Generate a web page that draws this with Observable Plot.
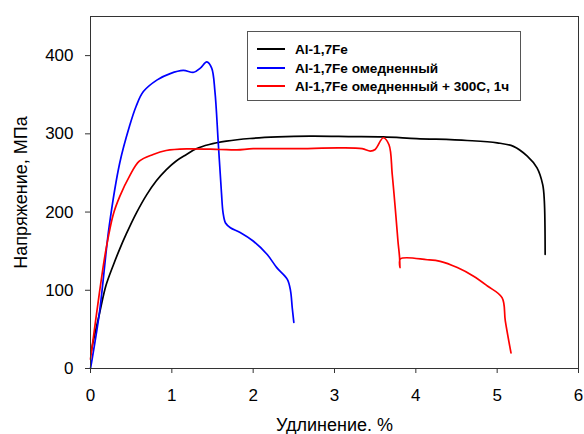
<!DOCTYPE html>
<html>
<head>
<meta charset="utf-8">
<script src="https://cdn.jsdelivr.net/npm/d3@7"></script>
<script src="https://cdn.jsdelivr.net/npm/@observablehq/plot@0.6"></script>
<style>
  html, body { margin: 0; padding: 0; background: #fff; }
  #wrap { position: relative; width: 584px; height: 434px; font-family: "Liberation Sans", Arial, sans-serif; }
  #legend { position: absolute; left: 247px; top: 31px; width: 274px; height: 70px; border: 1px solid #555; background: #fff; box-sizing: border-box; }
  .row { position: absolute; left: 9px; height: 16px; display: flex; align-items: center; font-weight: bold; font-size: 13.6px; color: #000; white-space: nowrap; }
  .sw { width: 28px; height: 0; border-top: 2px solid; margin-right: 10px; }
</style>
</head>
<body>
<div id="wrap"><div id="legend"></div></div>
<script>
const seriesNames = ["Al-1,7Fe", "Al-1,7Fe омедненный", "Al-1,7Fe омедненный + 300С, 1ч"];
const seriesColors = ["#000000", "#0000ff", "#ff0000"];

const blackX = [0.01, 0.03, 0.11, 0.19, 0.28, 0.36, 0.44, 0.56, 0.69, 0.81, 0.93, 1.05, 1.18, 1.30, 1.46, 1.67, 1.96, 2.3, 2.7, 3.2, 3.6, 4.01, 4.63, 5.0, 5.2, 5.37, 5.49, 5.56, 5.58, 5.59];
const blackY = [22, 33, 70, 106, 132, 153, 172, 198, 222, 240, 254, 265, 273.6, 281, 286.4, 290.6, 294, 296, 297, 296.5, 296, 294, 291.5, 288.5, 284, 271.5, 256.5, 235, 214, 146];

const blueX = [0, 0.11, 0.23, 0.36, 0.48, 0.56, 0.65, 0.82, 0.98, 1.14, 1.27, 1.35, 1.43, 1.49, 1.53, 1.57, 1.61, 1.63, 1.66, 1.72, 1.84, 2.0, 2.17, 2.29, 2.42, 2.46, 2.48, 2.50];
const blueY = [0, 71.5, 182, 263, 310, 335, 354, 369, 377, 381, 378.7, 384, 392, 384, 354, 290, 225, 199, 186, 180, 174, 163, 146, 129, 114, 99, 78, 59];

const redX = [0, 0.01, 0.11, 0.19, 0.28, 0.36, 0.48, 0.60, 0.77, 0.93, 1.18, 1.59, 1.8, 2.0, 2.5, 3.07, 3.34, 3.44, 3.5, 3.6, 3.67, 3.71, 3.75, 3.78, 3.80, 3.805, 3.81, 4.14, 4.30, 4.51, 4.71, 4.88, 5.06, 5.10, 5.17];
const redY = [12, 20, 97, 152, 197, 220, 246, 265, 273.6, 278.7, 280.8, 280, 279.5, 281, 281, 282, 281, 278, 280, 295, 286, 248, 201, 163, 142, 129, 140, 139, 137, 129, 118, 105.5, 90.6, 61, 20];

const xTicks = [0, 1, 2, 3, 4, 5, 6];
const yTicks = [0, 100, 200, 300, 400];
const xLabel = "Удлинение. %";
const yLabel = "Напряжение, МПа";

const toRows = (xs, ys, s) => xs.map((x, i) => ({x, y: ys[i], s}));
const data = [
  ...toRows(blackX, blackY, seriesNames[0]),
  ...toRows(blueX, blueY, seriesNames[1]),
  ...toRows(redX, redY, seriesNames[2])
];

const chart = Plot.plot({
  width: 584,
  height: 434,
  marginLeft: 90,
  marginRight: 6,
  marginTop: 16,
  marginBottom: 66,
  style: { fontFamily: "'Liberation Sans', Arial, sans-serif", fontSize: "17px", color: "#000", background: "#fff" },
  x: { domain: [0, 6] },
  y: { domain: [0, 450] },
  color: { domain: seriesNames, range: seriesColors },
  marks: [
    Plot.line(data, { x: "x", y: "y", z: "s", stroke: "s", strokeWidth: 1.7, curve: "catmull-rom" }),
    Plot.frame({ stroke: "#333", strokeWidth: 1 }),
    Plot.axisX({ ticks: xTicks, tickFormat: d3.format("d"), tickSize: 5, tickPadding: 15, label: null, fontSize: 17, stroke: "#333" }),
    Plot.axisY({ ticks: yTicks, tickFormat: d3.format("d"), tickSize: 5, tickPadding: 12, label: null, fontSize: 17, stroke: "#333" }),
    Plot.text([xLabel], { text: d => d, frameAnchor: "bottom", textAnchor: "middle", lineAnchor: "middle", dy: 57, fontSize: 18, fill: "#000" }),
    Plot.text([yLabel], { text: d => d, frameAnchor: "left", textAnchor: "middle", lineAnchor: "middle", dx: -69, rotate: -90, fontSize: 18, fill: "#000" })
  ]
});
document.getElementById("wrap").prepend(chart);

const legend = document.getElementById("legend");
const rowTops = [9, 28, 46];
seriesNames.forEach((name, i) => {
  const r = document.createElement("div");
  r.className = "row";
  r.style.top = rowTops[i] + "px";
  const sw = document.createElement("div");
  sw.className = "sw";
  sw.style.borderTopColor = seriesColors[i];
  const t = document.createElement("span");
  t.textContent = name;
  r.appendChild(sw);
  r.appendChild(t);
  legend.appendChild(r);
});
</script>
</body>
</html>
